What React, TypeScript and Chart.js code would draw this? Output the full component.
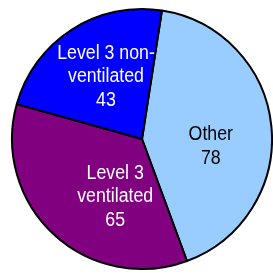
import React, { useEffect, useRef } from "react";
import { Chart, registerables } from "chart.js";

Chart.register(...registerables);

const categories = ["Other", "Level 3 ventilated", "Level 3 non-ventilated"];
const labelLines = [["Other", "78"], ["Level 3", "ventilated", "65"], ["Level 3 non-", "ventilated", "43"]];
const values = [78, 65, 43];
const sliceColors = ["#99CCFF", "#800080", "#0000FF"];
const textColors = ["#000000", "#FFFFFF", "#FFFFFF"];
// label block centre, relative to pie centre, in units of radius
const labelOffsets = [
  [0.529, 0.046],
  [-0.206, 0.433],
  [-0.277, -0.491],
];

const FONT_SIZE = 19.5;
const LINE_H = 23.5;
const X_SCALE = 0.91;

const labelPlugin = {
  id: "sliceLabels",
  afterDatasetsDraw(chart: any) {
    const meta = chart.getDatasetMeta(0);
    const arc0 = meta.data[0];
    if (!arc0) return;
    const cx = arc0.x;
    const cy = arc0.y;
    const r = arc0.outerRadius;
    const ctx = chart.ctx;
    ctx.save();
    ctx.font = `${FONT_SIZE}px "Liberation Sans", Arial, sans-serif`;
    ctx.textAlign = "center";
    ctx.textBaseline = "alphabetic";
    labelLines.forEach((lines, i) => {
      const ax = cx + labelOffsets[i][0] * r;
      const ay = cy + labelOffsets[i][1] * r;
      const capH = FONT_SIZE * 0.716;
      const firstBase = ay - ((lines.length - 1) / 2) * LINE_H + capH / 2;
      ctx.fillStyle = textColors[i];
      lines.forEach((line, j) => {
        ctx.save();
        ctx.translate(ax, firstBase + j * LINE_H);
        ctx.scale(X_SCALE, 1);
        ctx.fillText(line, 0, 0);
        ctx.restore();
      });
    });
    ctx.restore();
  },
};

export default function App() {
  const ref = useRef<HTMLCanvasElement>(null);
  useEffect(() => {
    document.body.style.margin = "0";
    const chart = new Chart(ref.current!, {
      type: "pie",
      data: {
        labels: categories,
        datasets: [
          {
            data: values,
            backgroundColor: sliceColors,
            borderColor: "#000000",
            borderWidth: 2,
          },
        ],
      },
      options: {
        animation: false,
        responsive: true,
        maintainAspectRatio: false,
        rotation: 8.8,
        layout: { padding: { left: 11, top: 7, right: 0, bottom: 4 } },
        plugins: {
          legend: { display: false },
          tooltip: { enabled: false },
        },
      },
      plugins: [labelPlugin],
    });
    return () => chart.destroy();
  }, []);
  return (
    <div style={{ width: 273, height: 275, background: "#fff" }}>
      <canvas ref={ref} />
    </div>
  );
}
